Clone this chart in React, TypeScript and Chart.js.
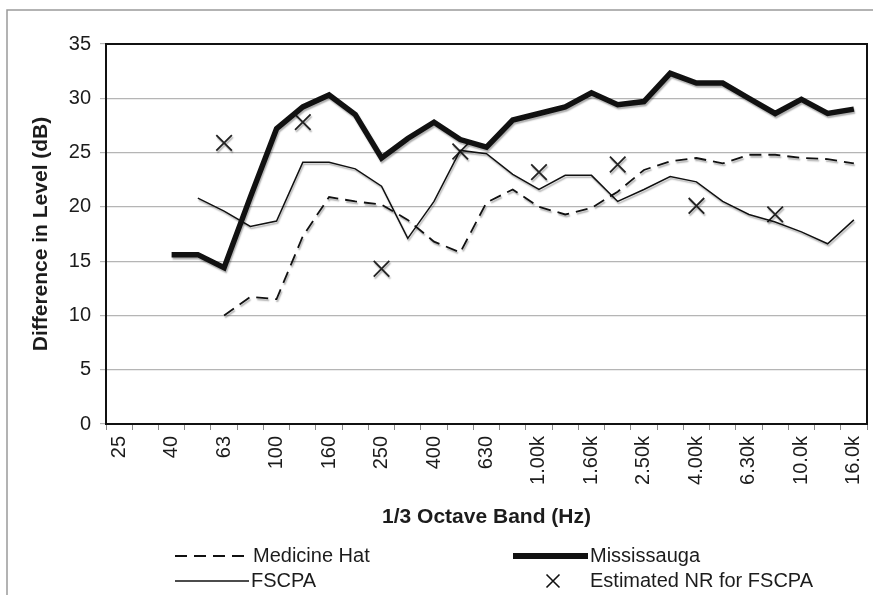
import React, { useEffect, useRef } from "react";
import { Chart, registerables } from "chart.js";

Chart.register(...registerables);

const bands = ["25", "31.5", "40", "50", "63", "80", "100", "125", "160", "200", "250", "315", "400", "500", "630", "800", "1.00k", "1.25k", "1.60k", "2.00k", "2.50k", "3.15k", "4.00k", "5.00k", "6.30k", "8.00k", "10.0k", "12.5k", "16.0k"];

const medicineHat = [null, null, null, null, 10.0, 11.7, 11.5, 17.3, 20.9, 20.5, 20.2, 18.8, 16.8, 15.8, 20.4, 21.6, 20.0, 19.3, 19.9, 21.4, 23.4, 24.2, 24.5, 24.0, 24.8, 24.8, 24.5, 24.4, 24.0];
const mississauga = [null, null, 15.6, 15.6, 14.4, 20.9, 27.2, 29.2, 30.3, 28.5, 24.5, 26.3, 27.8, 26.2, 25.5, 28.0, 28.6, 29.2, 30.5, 29.4, 29.7, 32.3, 31.4, 31.4, 30.0, 28.6, 29.9, 28.6, 29.0];
const fscpa = [null, null, null, 20.8, 19.6, 18.2, 18.7, 24.1, 24.1, 23.5, 21.9, 17.1, 20.5, 25.2, 24.9, 23.0, 21.6, 22.9, 22.9, 20.5, 21.6, 22.8, 22.3, 20.5, 19.3, 18.6, 17.7, 16.6, 18.8];
const estimatedNR = [null, null, null, null, 25.9, null, null, 27.8, null, null, 14.3, null, null, 25.1, null, null, 23.2, null, null, 23.9, null, null, 20.1, null, null, 19.3, null, null, null];

const yTicks = [0, 5, 10, 15, 20, 25, 30, 35];

const FONT = "'Liberation Sans', Arial, Helvetica, sans-serif";
const TEXT = "#1c1c1c";

const shadowPlugin = {
  id: "shadow",
  beforeDatasetsDraw(chart: any) {
    const ctx = chart.ctx;
    ctx.save();
    ctx.shadowColor = "rgba(0,0,0,0.32)";
    ctx.shadowOffsetX = 1;
    ctx.shadowOffsetY = 2;
    ctx.shadowBlur = 1.5;
  },
  afterDatasetsDraw(chart: any) {
    chart.ctx.restore();
  },
};

const framePlugin = {
  id: "frame",
  beforeDatasetsDraw(chart: any) {
    const { ctx, chartArea: a } = chart;
    ctx.save();
    ctx.strokeStyle = "#111";
    ctx.lineWidth = 2;
    ctx.strokeRect(a.left, a.top, a.right - a.left, a.bottom - a.top);
    ctx.restore();
  },
  afterDraw(chart: any) {
    const { ctx, chartArea: a } = chart;
    ctx.save();
    // outer figure frame
    ctx.strokeStyle = "#9a9a9a";
    ctx.lineWidth = 1.5;
    ctx.beginPath();
    ctx.moveTo(873, 10);
    ctx.lineTo(7, 10);
    ctx.lineTo(7, 595);
    ctx.stroke();

    // axis titles
    ctx.fillStyle = TEXT;
    ctx.font = `bold 21px ${FONT}`;
    ctx.textAlign = "center";
    ctx.textBaseline = "middle";
    ctx.fillText("1/3 Octave Band (Hz)", (a.left + a.right) / 2, 517);
    ctx.save();
    ctx.translate(41, (a.top + a.bottom) / 2);
    ctx.rotate(-Math.PI / 2);
    ctx.fillText("Difference in Level (dB)", 0, 0);
    ctx.restore();

    // legend
    const r1 = 556;
    const r2 = 581;
    ctx.strokeStyle = "#111";
    ctx.lineCap = "butt";
    // Medicine Hat
    ctx.lineWidth = 1.8;
    ctx.setLineDash([12, 7]);
    ctx.beginPath();
    ctx.moveTo(175, r1);
    ctx.lineTo(249, r1);
    ctx.stroke();
    ctx.setLineDash([]);
    // FSCPA
    ctx.lineWidth = 1.6;
    ctx.beginPath();
    ctx.moveTo(175, r2);
    ctx.lineTo(249, r2);
    ctx.stroke();
    // Mississauga
    ctx.lineWidth = 6;
    ctx.beginPath();
    ctx.moveTo(513, r1);
    ctx.lineTo(588, r1);
    ctx.stroke();
    // Estimated NR marker
    ctx.lineWidth = 1.6;
    const mx = 553, s = 6.5;
    ctx.beginPath();
    ctx.moveTo(mx - s, r2 - s);
    ctx.lineTo(mx + s, r2 + s);
    ctx.moveTo(mx + s, r2 - s);
    ctx.lineTo(mx - s, r2 + s);
    ctx.stroke();

    ctx.font = `20px ${FONT}`;
    ctx.textAlign = "left";
    ctx.fillStyle = TEXT;
    ctx.fillText("Medicine Hat", 253, r1);
    ctx.fillText("FSCPA", 251, r2);
    ctx.fillText("Mississauga", 590, r1);
    ctx.fillText("Estimated NR for FSCPA", 590, r2);
    ctx.restore();
  },
};

export default function App() {
  const ref = useRef<HTMLCanvasElement | null>(null);

  useEffect(() => {
    document.body.style.margin = "0";
    const canvas = ref.current;
    if (!canvas) return;
    const chart = new Chart(canvas, {
      type: "line",
      data: {
        labels: bands,
        datasets: [
          {
            label: "Medicine Hat",
            data: medicineHat,
            borderColor: "#111",
            borderWidth: 1.8,
            borderDash: [12, 7],
            pointRadius: 0,
            tension: 0,
            spanGaps: false,
          },
          {
            label: "Mississauga",
            data: mississauga,
            borderColor: "#111",
            borderWidth: 5.5,
            pointRadius: 0,
            tension: 0,
            spanGaps: false,
          },
          {
            label: "FSCPA",
            data: fscpa,
            borderColor: "#111",
            borderWidth: 1.5,
            pointRadius: 0,
            tension: 0,
            spanGaps: false,
          },
          {
            label: "Estimated NR for FSCPA",
            data: estimatedNR,
            showLine: false,
            borderColor: "#222",
            backgroundColor: "#222",
            pointStyle: "crossRot",
            pointRadius: 11,
            pointBorderWidth: 1.8,
          },
        ],
      },
      options: {
        responsive: false,
        animation: false,
        devicePixelRatio: 1,
        layout: { autoPadding: false, padding: { left: 0, top: 44, right: 6, bottom: 0 } },
        plugins: {
          legend: { display: false },
          tooltip: { enabled: false },
        },
        scales: {
          x: {
            type: "category",
            offset: true,
            grid: {
              offset: true,
              drawOnChartArea: false,
              drawTicks: true,
              tickLength: 6,
              color: "#888",
            },
            border: { display: false },
            ticks: {
              autoSkip: false,
              maxRotation: 90,
              minRotation: 90,
              padding: 6,
              color: TEXT,
              font: { family: FONT, size: 20 },
              callback: (_v: any, i: number) => (i % 2 === 0 ? bands[i] : ""),
            },
            afterFit: (s: any) => {
              s.height = 171;
              s.paddingLeft = 0;
              s.paddingRight = 0;
            },
          },
          y: {
            min: 0,
            max: 35,
            afterBuildTicks: (s: any) => {
              s.ticks = yTicks.map((v) => ({ value: v }));
            },
            grid: {
              color: "#b5b5b5",
              lineWidth: 1.2,
              tickLength: 6,
              drawTicks: true,
            },
            border: { display: false },
            ticks: {
              padding: 9,
              color: TEXT,
              font: { family: FONT, size: 20 },
            },
            afterFit: (s: any) => {
              s.width = 106;
              s.paddingTop = 0;
              s.paddingBottom = 0;
            },
          },
        },
      },
      plugins: [framePlugin, shadowPlugin],
    } as any);
    return () => chart.destroy();
  }, []);

  return (
    <div style={{ position: "absolute", left: 0, top: 0, width: 873, height: 595, background: "#fff" }}>
      <canvas ref={ref} width={873} height={595} style={{ display: "block", width: 873, height: 595 }} />
    </div>
  );
}
